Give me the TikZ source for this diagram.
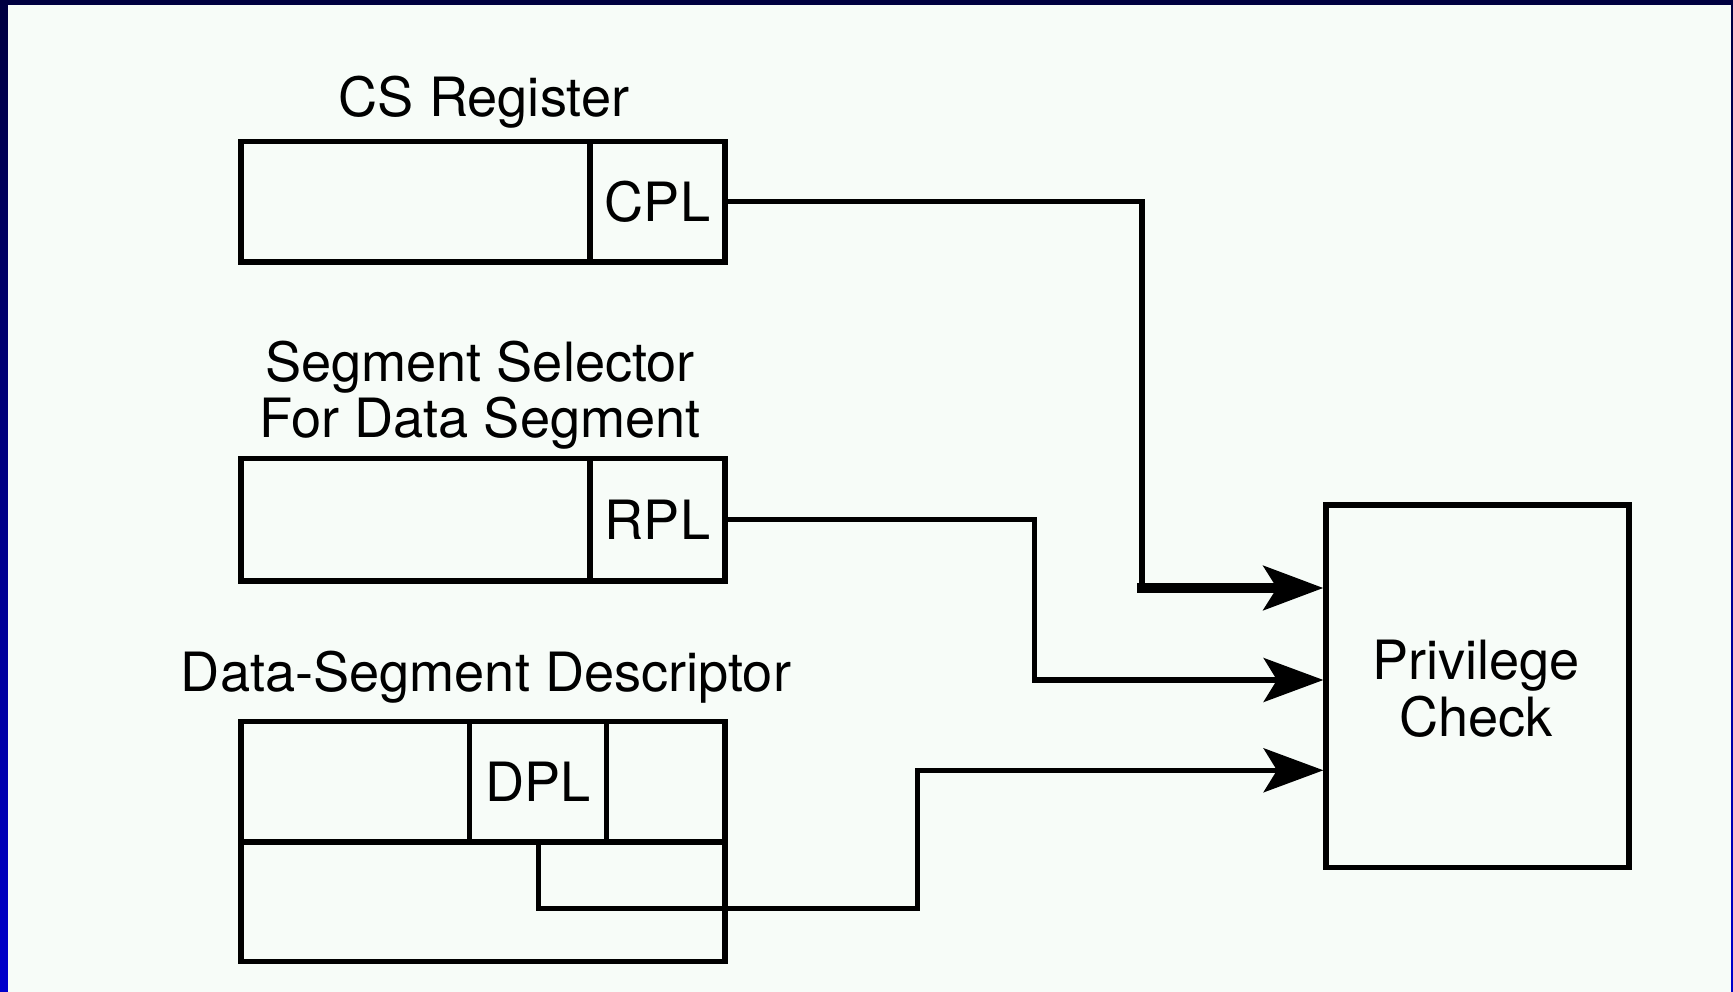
\documentclass[tikz,border=0pt]{standalone}
\usepackage{fontspec}
\setmainfont{TeX Gyre Heros}
\usetikzlibrary{arrows.meta,fit}
\definecolor{bgc}{RGB}{247,252,248}
\definecolor{navytop}{RGB}{0,0,64}
\definecolor{bluebot}{RGB}{0,0,204}
\tikzset{
  cell/.style={draw=black, line width=1.5pt, inner sep=0pt},
  lbl/.style={inner sep=0pt, font=\fontsize{15.4pt}{16.5pt}\selectfont},
  conn/.style={draw=black, line width=1.45pt},
  thickconn/.style={draw=black, line width=2.7pt},
  tip/.style={-{Stealth[length=17pt,width=12.5pt,inset=3.8pt]}}
}
\begin{document}
\begin{tikzpicture}[x=0.01cm,y=-0.01cm]
% frame and background
\shade[top color=navytop, bottom color=bluebot] (0,0) rectangle (1733,992);
\fill[bgc] (8,5) rectangle (1731,992);
\useasboundingbox (0,0) rectangle (1733,992);

% CS register
\node[lbl, anchor=base] (cslbl) at (484,117) {CS Register};
\node[cell, fit={(241,141.5) (590,262)}] (csl) {};
\node[cell, fit={(590,141.5) (725,262)}] (cpl) {};
\node[lbl] (cpltxt) at (cpl.center) {CPL};

% Segment selector
\node[lbl, anchor=base] (sel1) at (480,382) {Segment Selector};
\node[lbl, anchor=base] (sel2) at (480,438) {For Data Segment};
\node[cell, fit={(241,458.6) (590,581)}] (sell) {};
\node[cell, fit={(590,458.6) (725,581)}] (rpl) {};
\node[lbl] (rpltxt) at (rpl.center) {RPL};

% Data-segment descriptor
\node[lbl, anchor=base] (dsdlbl) at (486,692) {Data-Segment Descriptor};
\node[cell, fit={(241,721.7) (469.7,842)}] (d1) {};
\node[cell, fit={(469.7,721.7) (606.8,842)}] (dpl) {};
\node[lbl] (dpltxt) at (dpl.center) {DPL};
\node[cell, fit={(606.8,721.7) (725,842)}] (d3) {};
\node[cell, fit={(241,842) (725,961.5)}] (d4) {};

% Privilege check
\node[cell, fit={(1326,505) (1629,867.6)}] (priv) {};
\node[lbl, anchor=base] (pc1) at (1476,680) {Privilege};
\node[lbl, anchor=base] (pc2) at (1476,737) {Check};

% connectors
\coordinate (j1) at (1142,588);
\draw[conn] (cpl.east) -| (j1);
\draw[thickconn, line cap=rect] (j1) -- ([xshift=-40pt]j1 -| priv.west);
\draw[thickconn, tip, line cap=butt] ([xshift=-40pt]j1 -| priv.west) -- (j1 -| priv.west);

\coordinate (j2) at (1034.5,680);
\draw[conn, tip] (rpl.east) -| (j2) -- (j2 -| priv.west);

\coordinate (j3a) at (917.3,908.5);
\coordinate (j3b) at (917.3,770.3);
\draw[conn, tip] (dpl.south) |- (j3a) -- (j3b) -- (j3b -| priv.west);
\end{tikzpicture}
\end{document}
